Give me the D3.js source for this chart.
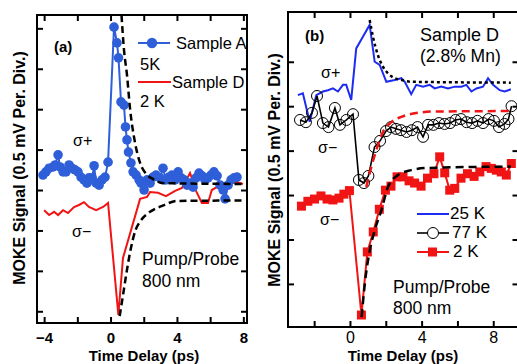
<!DOCTYPE html>
<html>
<head>
<meta charset="utf-8">
<script src="https://cdn.jsdelivr.net/npm/d3@7"></script>
<style>
  html, body { margin: 0; padding: 0; background: #fff; }
  svg { display: block; font-family: "Liberation Sans", Arial, Helvetica, sans-serif; }
</style>
</head>
<body>
<div id="chart"></div>
<script>
// ---- panel (a) data: time delay (ps) / signal (divisions) ----
const aSampleA_t = [-4.07, -3.89, -3.7, -3.46, -3.34, -3.16, -3.04, -2.86, -2.68, -2.5, -2.32, -2.14, -1.96, -1.78, -1.6, -1.42, -1.3, -1.11, -0.99, -0.87, -0.69, -0.51, -0.33, -0.15,
  0.21, 0.39, 0.48, 0.63, 0.81, 0.9, 0.99, 1.08, 1.23, 1.36, 1.54, 1.72, 1.84, 2.02, 2.2, 2.38, 2.56, 2.74, 2.98, 3.16, 3.34, 3.52, 3.7, 3.89, 4.07, 4.25, 4.43, 4.61, 4.79, 4.97,
  5.15, 5.33, 5.51, 5.69, 5.87, 6.05, 6.23, 6.42, 6.6, 6.78, 6.9, 7.08, 7.26, 7.44, 7.62]
const aSampleA_v = [0.37, 0.45, 0.54, 0.57, 0.62, 0.87, 0.57, 0.45, 0.45, 0.62, 0.54, 0.5, 0.45, 0.32, 0.25, 0.17, 0.3, 0.3, 0.6, 0.17, 0.12, 0.25, 0.32, 0.69,
  4.03, 3.64, 3.27, 2.18, 2.1, 1.56, 1.24, 0.94, 0.67, 0.45, 0.37, 0.25, 0.17, 0.0, 0.25, 0.17, 0.32, 0.37, 0.3, 0.54, 0.25, 0.32, 0.37, 0.25, 0.45, 0.3, 0.25, 0.12, 0.17, 0.07,
  0.3, 0.42, 0.35, 0.25, 0.3, 0.37, 0.45, 0.35, 0.12, 0.0, -0.22, 0.12, 0.25, 0.3, 0.32]

const aSampleD_t = [-4.0, -3.7, -3.4, -3.16, -2.86, -2.56, -2.2, -1.9, -1.6, -1.3, -0.87, -0.45, -0.15, 0.47, 0.75, 1.78, 2.2, 2.38, 2.86, 3.34, 3.89, 4.3, 4.79, 5.15, 5.5, 5.87, 6.1, 6.4, 6.7, 6.96, 7.26, 7.62, 7.98]
const aSampleD_v = [-0.5, -0.62, -0.54, -0.62, -0.5, -0.57, -0.42, -0.37, -0.3, -0.42, -0.5, -0.42, -0.32, -3.09, -1.68, -0.22, -0.17, -0.05, -0.07, -0.15, -0.02, 0.05, 0.42, -0.02, -0.32, -0.32, 0.0, 0.07, 0.02, 0.12, 0.17, 0.2, 0.15]

const aFitUp_t = [0.66, 0.81, 0.99, 1.17, 1.48, 1.78, 2.14, 2.56, 3.16, 7.98]
const aFitUp_v = [4.33, 3.47, 2.85, 2.03, 1.16, 0.67, 0.4, 0.27, 0.17, 0.15]
const aFitDown_t = [0.55, 0.77, 0.98, 1.22, 1.5, 1.8, 2.38, 3.18, 4.0, 7.98]
const aFitDown_v = [-3.12, -2.55, -2.0, -1.45, -1.0, -0.77, -0.54, -0.38, -0.27, -0.26]

// ---- panel (b) data ----
const b25K_t = [-2.91, -2.63, -2.25, -1.88, -1.51, -1.23, -0.95, -0.67, -0.39, -0.21, 0.07, 0.35, 0.73, 1.1, 1.38, 1.66, 2.03, 2.5, 2.87, 3.06, 3.42, 3.7, 4.08, 4.45, 4.73,
  5.1, 5.47, 5.85, 6.22, 6.5, 6.78, 7.06, 7.43, 7.71, 7.99, 8.36, 8.64, 8.98]
const b25K_v = [2.25, 2.29, 1.65, 2.25, 2.33, 2.36, 2.4, 2.33, 2.48, 2.48, 2.14, 3.3, 3.57, 3.83, 3.0, 2.93, 2.55, 2.59, 2.63, 2.55, 2.27, 2.48, 2.44, 2.48, 2.4,
  2.44, 2.4, 2.44, 2.44, 2.48, 2.33, 2.4, 2.44, 2.63, 2.48, 2.36, 2.33, 2.38]

const b77K_t = [-2.79, -2.46, -2.12, -1.84, -1.51, -1.2, -0.84, -0.56, -0.2, 0.17, 0.5, 0.78, 1.03, 1.37, 1.68, 2.01, 2.29, 2.57, 2.85, 3.16, 3.46, 3.77, 4.08, 4.36,
  4.66, 4.97, 5.28, 5.59, 5.89, 6.2, 6.51, 6.82, 7.12, 7.43, 7.74, 8.04, 8.32, 8.63, 8.85, 9.02]
const b77K_v = [1.69, 1.64, 1.85, 2.23, 1.62, 1.53, 1.96, 1.58, 1.69, 1.82, 0.34, 0.27, 0.43, 1.08, 1.22, 1.44, 1.53, 1.49, 1.46, 1.42, 1.46, 1.53, 1.31, 1.58,
  1.58, 1.62, 1.6, 1.62, 1.69, 1.71, 1.64, 1.62, 1.67, 1.62, 1.71, 1.67, 1.53, 1.6, 1.71, 2.0]

const b2K_t = [-2.71, -2.35, -1.98, -1.62, -1.28, -0.95, -0.61, -0.34, -0.03, 0.64, 0.97, 1.3, 1.64, 1.98, 2.29, 2.63, 2.96, 3.3, 3.61, 3.97, 4.33, 4.69, 5.01,
  5.29, 5.57, 5.85, 6.2, 6.56, 6.93, 7.25, 7.6, 7.89, 8.17, 8.45, 8.73, 9.01]
const b2K_v = [-0.25, -0.14, -0.09, -0.02, -0.09, -0.11, -0.07, 0.02, 0.1, -2.7, -1.28, -0.83, -0.32, 0.11, 0.2, 0.41, 0.41, 0.32, 0.27, 0.2, 0.38, 0.48, 0.86,
  0.5, 0.11, 0.15, 0.38, 0.48, 0.42, 0.52, 0.64, 0.6, 0.56, 0.52, 0.45, 0.71]

const bFitUp_t = [1.1, 1.28, 1.56, 1.84, 2.12, 2.5, 2.87, 3.42, 8.98]
const bFitUp_v = [3.94, 3.57, 3.15, 2.89, 2.74, 2.63, 2.59, 2.55, 2.53]
const bFitRed_t = [0.91, 1.19, 1.47, 1.84, 2.31, 2.87, 3.61, 4.73, 8.98]
const bFitRed_v = [0.18, 0.63, 1.01, 1.42, 1.64, 1.76, 1.84, 1.88, 1.89]
const bFitLow_t = [0.65, 0.84, 1.12, 1.4, 1.77, 2.12, 2.68, 3.42, 4.36, 8.98]
const bFitLow_v = [-2.75, -1.96, -1.22, -0.77, -0.32, 0.18, 0.45, 0.56, 0.61, 0.64]

// ticks
const aXTicks = [-4, -2, 0, 2, 4, 6, 8]
const aXLabels = [-4, 0, 4, 8]
const aYTicks = [-3, -2, -1, 0, 1, 2, 3, 4]
const bXTicks = [-2, 0, 2, 4, 6, 8]
const bXLabels = [0, 4, 8]
const bYTicks = [-2, -1, 0, 1, 2, 3]

const zip = (t, v) => t.map((d, i) => ({ t: d, v: v[i] }))

const W = 517, H = 364
const svg = d3.select('#chart').append('svg')
  .attr('width', W).attr('height', H)
  .attr('viewBox', `0 0 ${W} ${H}`)

const BLUE_A = '#2f5fd8'
const BLUE_B = '#1c2cf0'
const RED = '#f01414'

function makePanel (id, box, xDom, yDom) {
  const x = d3.scaleLinear().domain(xDom).range([box.l, box.r])
  const y = d3.scaleLinear().domain(yDom).range([box.b, box.t])
  svg.append('defs').append('clipPath').attr('id', id)
    .append('rect')
    .attr('x', box.l).attr('y', box.t)
    .attr('width', box.r - box.l).attr('height', box.b - box.t)
  const plot = svg.append('g').attr('clip-path', `url(#${id})`)
  return { x, y, plot, box }
}

function drawFrame (p, xTicks, yTicks, xLabels, labelWeight, labelSize, labelGap) {
  const { x, y, box } = p
  const tick = 6
  const fr = svg.append('g').attr('class', 'frame')
  const axes = [
    [d3.axisBottom(x).tickValues(xTicks), `translate(0,${box.b})`],
    [d3.axisTop(x).tickValues(xTicks), `translate(0,${box.t})`],
    [d3.axisLeft(y).tickValues(yTicks), `translate(${box.l},0)`],
    [d3.axisRight(y).tickValues(yTicks), `translate(${box.r},0)`]
  ]
  axes.forEach(([ax, tr]) => {
    fr.append('g').attr('transform', tr)
      .call(ax.tickSize(-tick).tickFormat(''))
      .call(g => g.select('.domain').remove())
      .call(g => g.selectAll('line').attr('stroke', '#000').attr('stroke-width', 2))
  })
  fr.append('rect')
    .attr('x', box.l).attr('y', box.t)
    .attr('width', box.r - box.l).attr('height', box.b - box.t)
    .attr('fill', 'none').attr('stroke', '#000').attr('stroke-width', 2)

  fr.append('g').attr('transform', `translate(0,${box.b})`)
    .call(d3.axisBottom(x).tickValues(xLabels).tickSize(0).tickPadding(labelGap).tickFormat(d3.format('d')))
    .call(g => g.select('.domain').remove())
    .call(g => g.selectAll('text')
      .attr('fill', '#000')
      .attr('font-size', labelSize)
      .attr('font-weight', labelWeight)
      .attr('font-family', '"Liberation Sans", Arial, sans-serif'))
}

function label (txt, x, y, size, opts = {}) {
  svg.append('text')
    .attr('x', x).attr('y', y)
    .attr('font-size', size)
    .attr('font-weight', opts.bold ? 'bold' : 'normal')
    .attr('text-anchor', opts.anchor || 'start')
    .attr('transform', opts.rotate ? `rotate(-90,${x},${y})` : null)
    .attr('fill', '#000')
    .text(txt)
}

// ================= panel (a) =================
const pa = makePanel('clipA', { l: 37, r: 247, t: 15, b: 323 }, [-4.43, 8.22], [-3.29, 4.33])
const lineA = d3.line().x(d => pa.x(d.t)).y(d => pa.y(d.v))
const smoothA = d3.line().x(d => pa.x(d.t)).y(d => pa.y(d.v)).curve(d3.curveMonotoneX)

const sampleA = zip(aSampleA_t, aSampleA_v)
pa.plot.append('path').datum(zip(aSampleD_t, aSampleD_v))
  .attr('d', lineA).attr('fill', 'none').attr('stroke', RED).attr('stroke-width', 2)
pa.plot.append('path').datum(sampleA)
  .attr('d', lineA).attr('fill', 'none').attr('stroke', BLUE_A).attr('stroke-width', 2)
pa.plot.selectAll('.ptA').data(sampleA).join('circle')
  .attr('class', 'ptA')
  .attr('cx', d => pa.x(d.t)).attr('cy', d => pa.y(d.v))
  .attr('r', 4.8).attr('fill', BLUE_A)
pa.plot.append('path').datum(zip(aFitUp_t, aFitUp_v))
  .attr('d', smoothA).attr('fill', 'none').attr('stroke', '#000')
  .attr('stroke-width', 2.5).attr('stroke-dasharray', '7,4')
pa.plot.append('path').datum(zip(aFitDown_t, aFitDown_v))
  .attr('d', smoothA).attr('fill', 'none').attr('stroke', '#000')
  .attr('stroke-width', 2.5).attr('stroke-dasharray', '7,4')

drawFrame(pa, aXTicks, aYTicks, aXLabels, 'bold', 15, 9.3)

// legend (a)
svg.append('line').attr('x1', 138).attr('x2', 170).attr('y1', 43).attr('y2', 43)
  .attr('stroke', BLUE_A).attr('stroke-width', 2)
svg.append('circle').attr('cx', 152).attr('cy', 43).attr('r', 5.2).attr('fill', BLUE_A)
label('Sample A', 176, 49, 16.5)
label('5K', 140, 70, 16.5)
svg.append('line').attr('x1', 138).attr('x2', 171).attr('y1', 82).attr('y2', 82)
  .attr('stroke', RED).attr('stroke-width', 2)
label('Sample D', 172, 88, 16.5)
label('2 K', 140, 107, 16.5)

label('(a)', 54, 52, 15, { bold: true })
label('σ+', 73, 146, 16)
label('σ−', 72, 237, 16)
label('Pump/Probe', 142, 265, 17.5)
label('800 nm', 142, 287, 17.5)
label('Time Delay (ps)', 144, 360.5, 15, { bold: true, anchor: 'middle' })
label('MOKE Signal (0.5 mV Per. Div.)', 25, 168, 16, { bold: true, anchor: 'middle', rotate: true })

// ================= panel (b) =================
const pb = makePanel('clipB', { l: 288, r: 518.5, t: 12, b: 327 }, [-3.46, 9.41], [-2.97, 4.12])
const lineB = d3.line().x(d => pb.x(d.t)).y(d => pb.y(d.v))
const smoothB = d3.line().x(d => pb.x(d.t)).y(d => pb.y(d.v)).curve(d3.curveMonotoneX)

pb.plot.append('path').datum(zip(b25K_t, b25K_v))
  .attr('d', lineB).attr('fill', 'none').attr('stroke', BLUE_B).attr('stroke-width', 2)

const k77 = zip(b77K_t, b77K_v)
pb.plot.append('path').datum(k77)
  .attr('d', lineB).attr('fill', 'none').attr('stroke', '#000').attr('stroke-width', 1.6)
pb.plot.selectAll('.pt77').data(k77).join('circle')
  .attr('class', 'pt77')
  .attr('cx', d => pb.x(d.t)).attr('cy', d => pb.y(d.v))
  .attr('r', 5.5).attr('fill', 'none').attr('stroke', '#000').attr('stroke-width', 1)

const k2 = zip(b2K_t, b2K_v)
pb.plot.append('path').datum(k2)
  .attr('d', lineB).attr('fill', 'none').attr('stroke', RED).attr('stroke-width', 2)
pb.plot.selectAll('.pt2').data(k2).join('rect')
  .attr('class', 'pt2')
  .attr('x', d => pb.x(d.t) - 4.5).attr('y', d => pb.y(d.v) - 4.5)
  .attr('width', 9).attr('height', 9).attr('fill', RED)

pb.plot.append('path').datum(zip(bFitUp_t, bFitUp_v))
  .attr('d', smoothB).attr('fill', 'none').attr('stroke', '#000')
  .attr('stroke-width', 2.5).attr('stroke-dasharray', '3,3')
pb.plot.append('path').datum(zip(bFitRed_t, bFitRed_v))
  .attr('d', smoothB).attr('fill', 'none').attr('stroke', RED)
  .attr('stroke-width', 2.5).attr('stroke-dasharray', '8,5')
pb.plot.append('path').datum(zip(bFitLow_t, bFitLow_v))
  .attr('d', smoothB).attr('fill', 'none').attr('stroke', '#000')
  .attr('stroke-width', 2.5).attr('stroke-dasharray', '8,5')

drawFrame(pb, bXTicks, bYTicks, bXLabels, 'normal', 16, 4.6)

// legend (b)
svg.append('line').attr('x1', 417).attr('x2', 449).attr('y1', 214).attr('y2', 214)
  .attr('stroke', BLUE_B).attr('stroke-width', 2)
label('25 K', 450, 219, 17)
svg.append('line').attr('x1', 417).attr('x2', 449).attr('y1', 233).attr('y2', 233)
  .attr('stroke', '#000').attr('stroke-width', 1.6)
svg.append('circle').attr('cx', 433).attr('cy', 233).attr('r', 5.5)
  .attr('fill', '#fff').attr('stroke', '#000').attr('stroke-width', 1)
label('77 K', 452, 238, 17)
svg.append('line').attr('x1', 417).attr('x2', 449).attr('y1', 252).attr('y2', 252)
  .attr('stroke', RED).attr('stroke-width', 2)
svg.append('rect').attr('x', 428).attr('y', 247.5).attr('width', 9).attr('height', 9).attr('fill', RED)
label('2 K', 453, 257, 17)

label('(b)', 305, 41, 15, { bold: true })
label('Sample D', 420, 41, 18)
label('(2.8% Mn)', 420, 62, 17.5)
label('σ+', 321, 78, 16)
label('σ−', 318, 153, 16)
label('σ−', 320, 225, 16)
label('Pump/Probe', 393, 293, 17.5)
label('800 nm', 393, 314, 17.5)
label('Time Delay (ps)', 403, 360.5, 15, { bold: true, anchor: 'middle' })
label('MOKE Signal (0.5 mV Per. Div.)', 280, 170, 16, { bold: true, anchor: 'middle', rotate: true })
</script>
</body>
</html>
